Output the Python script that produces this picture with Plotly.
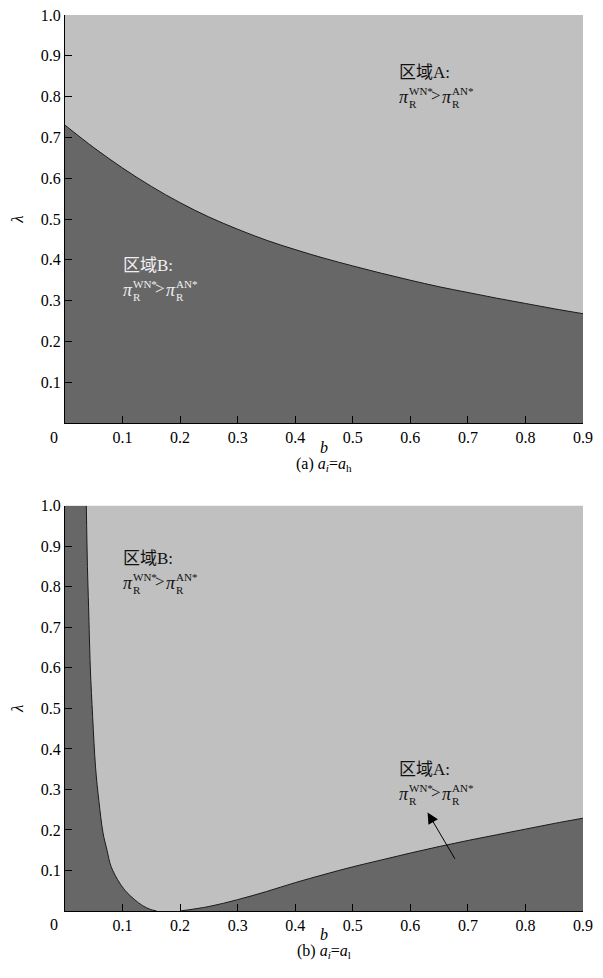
import plotly.graph_objects as go

# ---------------- data ----------------
# (a) a_i = a_h : boundary lambda(b)
b_top = [0.0, 0.05, 0.1, 0.15, 0.2, 0.25, 0.3, 0.35, 0.4, 0.45, 0.5,
         0.55, 0.6, 0.65, 0.7, 0.75, 0.8, 0.85, 0.9]
lam_top = [0.730, 0.675, 0.625, 0.580, 0.540, 0.505, 0.475, 0.448, 0.425, 0.404,
           0.385, 0.367, 0.350, 0.334, 0.320, 0.306, 0.293, 0.280, 0.268]

# (b) a_i = a_l : left boundary (steep) and right boundary
b_left = [0.037, 0.039, 0.041, 0.044, 0.048, 0.053, 0.059, 0.066, 0.073, 0.080,
          0.095, 0.108, 0.121, 0.135, 0.148, 0.159]
lam_left = [1.0, 0.85, 0.75, 0.60, 0.48, 0.356, 0.27, 0.193, 0.15, 0.11,
            0.069, 0.045, 0.028, 0.013, 0.004, 0.0]

b_right = [0.2, 0.25, 0.3, 0.35, 0.4, 0.45, 0.5, 0.55, 0.6, 0.65, 0.7, 0.75,
           0.8, 0.85, 0.9]
lam_right = [0.0, 0.011, 0.028, 0.048, 0.070, 0.090, 0.109, 0.126, 0.143, 0.159,
             0.174, 0.188, 0.202, 0.216, 0.229]

x_ticks = [0.1, 0.2, 0.3, 0.4, 0.5, 0.6, 0.7, 0.8, 0.9]
y_ticks = [0.1, 0.2, 0.3, 0.4, 0.5, 0.6, 0.7, 0.8, 0.9, 1.0]

# region labels: (axis suffix, b, lambda, title, text colour)
region_labels = [
    ("", 0.578, 0.858, "区域A:", "#111111"),
    ("", 0.099, 0.386, "区域B:", "#f0f0f0"),
    ("2", 0.0995, 0.869, "区域B:", "#111111"),
    ("2", 0.578, 0.348, "区域A:", "#111111"),
]
arrow_head = (0.630, 0.243)
arrow_tail = (0.679, 0.125)

# ---------------- style ----------------
LIGHT = "#c0c0c0"
DARK = "#676767"
FONT = "'Liberation Serif', 'Times New Roman', 'Noto Sans CJK SC', serif"

fig = go.Figure()

fig.add_trace(go.Scatter(x=b_top, y=lam_top, mode="lines", fill="tozeroy",
                         fillcolor=DARK, line=dict(color="#1a1a1a", width=1, shape="spline"),
                         xaxis="x", yaxis="y", hoverinfo="skip", showlegend=False))
fig.add_trace(go.Scatter(x=b_left, y=lam_left, mode="lines", fill="tozerox",
                         fillcolor=DARK, line=dict(color="#1a1a1a", width=1, shape="spline"),
                         xaxis="x2", yaxis="y2", hoverinfo="skip", showlegend=False))
fig.add_trace(go.Scatter(x=b_right, y=lam_right, mode="lines", fill="tozeroy",
                         fillcolor=DARK, line=dict(color="#1a1a1a", width=1, shape="spline"),
                         xaxis="x2", yaxis="y2", hoverinfo="skip", showlegend=False))

axis_common = dict(showline=True, linecolor="black", linewidth=1, ticks="inside",
                   ticklen=7, tickwidth=1, tickcolor="black", showgrid=False,
                   zeroline=False, automargin=False, ticklabeloverflow="allow",
                   tickfont=dict(family=FONT, size=16, color="black"))

ytitle = dict(text="<i>λ</i>", font=dict(family=FONT, size=17, color="black"), standoff=14)

# page body has an 8px margin, so the figure is sized/offset to compensate
fig.update_layout(
    width=595, height=970,
    margin=dict(l=57, r=20, t=7, b=67),
    paper_bgcolor="white", plot_bgcolor=LIGHT,
    font=dict(family=FONT, color="black"),
    xaxis=dict(domain=[0, 1], range=[0, 0.9], tickvals=x_ticks, tickformat=".1f",
               anchor="y", **axis_common),
    yaxis=dict(domain=[0.5446, 1], range=[0, 1], tickvals=y_ticks, tickformat=".1f",
               anchor="x", title=ytitle, **axis_common),
    xaxis2=dict(domain=[0, 1], range=[0, 0.9], tickvals=x_ticks, tickformat=".1f",
                anchor="y2", **axis_common),
    yaxis2=dict(domain=[0, 0.4523], range=[0, 1], tickvals=y_ticks, tickformat=".1f",
                anchor="x2", title=ytitle, **axis_common),
)

ann = []
for suf, cap in [("", "(a) <i>a<sub>i</sub></i>=<i>a</i><sub>h</sub>"),
                 ("2", "(b) <i>a<sub>i</sub></i>=<i>a</i><sub>l</sub>")]:
    xr, yr = "x" + suf, "y" + suf
    ann.append(dict(x=0, y=0, xref=xr, yref=yr, text="0", showarrow=False,
                    xanchor="center", yanchor="middle", xshift=-11, yshift=-14,
                    font=dict(family=FONT, size=16, color="black")))
    ann.append(dict(x=0.45, y=0, xref=xr, yref=yr, text="<i>b</i>", showarrow=False,
                    xanchor="center", yanchor="middle", yshift=-24,
                    font=dict(family=FONT, size=16, color="black")))
    ann.append(dict(x=0.45, y=0, xref=xr, yref=yr, text=cap, showarrow=False,
                    xanchor="center", yanchor="middle", yshift=-41,
                    font=dict(family=FONT, size=16, color="black")))

for suf, bx, ly, title, col in region_labels:
    xr, yr = "x" + suf, "y" + suf
    base = dict(x=bx, y=ly, xref=xr, yref=yr, showarrow=False, xanchor="left",
                yanchor="middle", borderpad=0)
    pieces = [
        (title, 0, 0, 17, False),
        ("π", 0, -24, 18, True),
        ("WN*", 10, -18, 11, False),
        ("R", 10, -31, 11, False),
        (">", 32, -23, 17, False),
        ("π", 43, -24, 18, True),
        ("AN*", 53, -18, 11, False),
        ("R", 53, -31, 11, False),
    ]
    for txt, dx, dy, sz, ital in pieces:
        a = dict(base)
        a.update(text=("<i>%s</i>" % txt) if ital else txt, xshift=dx, yshift=dy,
                 font=dict(family=FONT, size=sz, color=col))
        ann.append(a)

ann.append(dict(x=arrow_head[0], y=arrow_head[1], ax=arrow_tail[0], ay=arrow_tail[1],
                xref="x2", yref="y2", axref="x2", ayref="y2", text="", showarrow=True,
                arrowhead=2, arrowsize=2.2, arrowwidth=1, arrowcolor="black"))

fig.update_layout(annotations=ann)
fig.write_html("out.html")
